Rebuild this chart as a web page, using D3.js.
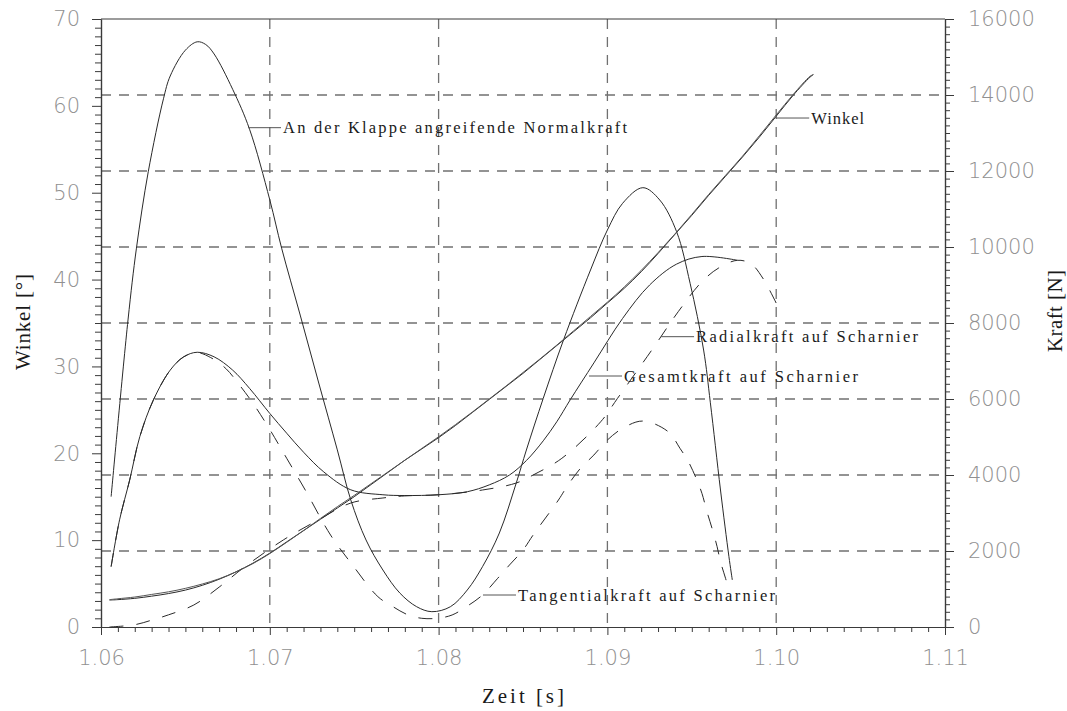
<!DOCTYPE html>
<html>
<head>
<meta charset="utf-8">
<script src="https://cdn.jsdelivr.net/npm/d3@7"></script>
<style>
  html, body { margin: 0; padding: 0; background: #fff; }
  svg { display: block; }
</style>
</head>
<body>
<svg id="chart" width="1067" height="711"></svg>
<script>
// Klappenbewegung: Winkel (links) und Kräfte (rechts) über der Zeit

// Winkel [°], zwei Verläufe
const winkelT = [1.0605, 1.061, 1.062, 1.063, 1.064, 1.065, 1.066, 1.067, 1.068, 1.069, 1.070,
  1.071, 1.072, 1.073, 1.074, 1.075, 1.076, 1.077, 1.078, 1.079, 1.080, 1.081, 1.082, 1.083,
  1.084, 1.085, 1.086, 1.087, 1.088, 1.089, 1.090, 1.091, 1.092, 1.093, 1.094, 1.095, 1.096,
  1.097, 1.098, 1.099, 1.100, 1.101, 1.102, 1.1022];
const winkelA = [3.10, 3.15, 3.30, 3.55, 3.85, 4.25, 4.80, 5.50, 6.35, 7.35, 8.50,
  9.80, 11.10, 12.40, 13.70, 15.00, 16.40, 17.80, 19.20, 20.50, 21.80, 23.20, 24.70, 26.20,
  27.70, 29.20, 30.80, 32.40, 34.00, 35.60, 37.30, 39.00, 40.90, 43.00, 45.20, 47.40, 49.70,
  51.90, 54.10, 56.40, 58.80, 61.20, 63.30, 63.60];
const winkelB = [3.15, 3.25, 3.45, 3.75, 4.05, 4.45, 4.95, 5.55, 6.35, 7.30, 8.45,
  9.75, 11.10, 12.50, 13.85, 15.15, 16.50, 17.85, 19.20, 20.55, 21.90, 23.30, 24.75, 26.25,
  27.75, 29.30, 30.85, 32.45, 34.10, 35.75, 37.40, 39.15, 41.05, 43.10, 45.25, 47.50, 49.80,
  52.00, 54.20, 56.55, 58.95, 61.30, 63.40, 63.60];

// An der Klappe angreifende Normalkraft [N]
const normalT = [1.0606, 1.0616, 1.0621, 1.0628, 1.0637, 1.0641, 1.0650, 1.0657, 1.0662, 1.0667, 1.0678,
  1.0688, 1.0700, 1.0707, 1.0718, 1.0729, 1.0740, 1.0748, 1.0757, 1.0767, 1.0777, 1.0787,
  1.0796, 1.0807, 1.0817, 1.0826, 1.0836, 1.0846, 1.0852, 1.0862, 1.0874, 1.0890, 1.0900,
  1.0909, 1.0921, 1.0931, 1.0941, 1.0949, 1.0957, 1.0961, 1.0967, 1.0972, 1.0974];
const normalN = [3430, 8080, 9970, 11980, 13900, 14500, 15180, 15400, 15330, 15080, 14150,
  13100, 11240, 9970, 8210, 6420, 4660, 3340, 2290, 1500, 895, 534,
  403, 534, 974, 1587, 2474, 3789, 4658, 6018, 7553, 9395, 10447,
  11149, 11561, 11237, 10403, 9044, 7289, 5900, 3605, 1850, 1237];

// Gesamtkraft auf Scharnier [N]
const gesamtT = [1.0606, 1.0611, 1.0617, 1.0623, 1.0631, 1.0641, 1.0649, 1.0657, 1.0667, 1.0678,
  1.0688, 1.0700, 1.0710, 1.0720, 1.0732, 1.0748, 1.0767, 1.0780, 1.0800, 1.0817, 1.0830,
  1.0842, 1.0852, 1.0862, 1.0870, 1.0878, 1.0892, 1.0909, 1.0925, 1.0941, 1.0956, 1.0977];
const gesamtN = [1590, 2820, 3870, 5010, 5970, 6760, 7110, 7230, 7110, 6760,
  6280, 5620, 5100, 4600, 4080, 3610, 3480, 3460, 3480, 3560, 3740,
  4000, 4380, 4900, 5400, 5980, 6950, 8120, 9000, 9550, 9750, 9650];

// Radialkraft auf Scharnier [N]
const radialT = [1.0605, 1.0620, 1.0630, 1.0640, 1.0655, 1.0670, 1.0685, 1.0708, 1.0728, 1.0748,
  1.0767, 1.0780, 1.0800, 1.0826, 1.0846, 1.0856, 1.0873, 1.0896, 1.0906, 1.0927, 1.0942,
  1.0956, 1.0966, 1.0977, 1.0985, 1.0992, 1.1002];
const radialN = [0, 60, 180, 320, 579, 1050, 1579, 2290, 2800, 3263,
  3395, 3450, 3480, 3605, 3789, 4000, 4439, 5400, 6018, 7333, 8300,
  9088, 9450, 9650, 9560, 9184, 8342];

// Tangentialkraft auf Scharnier [N]
const tangentialT = [1.0606, 1.0611, 1.0617, 1.0623, 1.0631, 1.0641, 1.0649, 1.0657, 1.0665, 1.0674,
  1.0682, 1.0690, 1.0699, 1.0710, 1.0721, 1.0736, 1.0749, 1.0764, 1.0773, 1.0782, 1.0790,
  1.0799, 1.0808, 1.0818, 1.0826, 1.0835, 1.0842, 1.0850, 1.0856, 1.0871, 1.0876, 1.0884,
  1.0892, 1.0900, 1.0909, 1.0921, 1.0936, 1.0943, 1.0948, 1.0953, 1.0956, 1.0959, 1.0962,
  1.0965, 1.0967, 1.0970, 1.0972];
const tangentialN = [1590, 2820, 3870, 5010, 5970, 6760, 7110, 7220, 7090, 6800,
  6370, 5890, 5270, 4440, 3605, 2420, 1630, 800, 534, 316, 229,
  229, 316, 579, 842, 1281, 1632, 2026, 2421, 3342, 3692, 4174,
  4526, 4921, 5228, 5420, 5140, 4702, 4350, 3868, 3518, 3032, 2596,
  2113, 1718, 1281, 974];

// Achsen
const timeTicks = [1.06, 1.07, 1.08, 1.09, 1.10, 1.11];
const winkelTicks = [0, 10, 20, 30, 40, 50, 60, 70];
const kraftTicks = [0, 2000, 4000, 6000, 8000, 10000, 12000, 14000, 16000];

// Beschriftungen mit Bezugspunkt auf der Kurve
const labels = [
  { text: "An der Klappe angreifende Normalkraft", t: 1.06871, v: 13140, axis: "N", len: 344 },
  { text: "Winkel", t: 1.1000, v: 58.6, axis: "deg", len: 53 },
  { text: "Radialkraft auf Scharnier", t: 1.09318, v: 7640, axis: "N", len: 222 },
  { text: "Gesamtkraft auf Scharnier", t: 1.08891, v: 6605, axis: "N", len: 234 },
  { text: "Tangentialkraft auf Scharnier", t: 1.08263, v: 842, axis: "N", len: 257 }
];

(function draw() {
  const svg = d3.select("#chart");
  const mLeft = 101, mRight = 945, mTop = 19, mBottom = 627;

  const x = d3.scaleLinear().domain([1.06, 1.11]).range([mLeft, mRight]);
  const yDeg = d3.scaleLinear().domain([0, 70]).range([mBottom, mTop]);
  const yN = d3.scaleLinear().domain([0, 16000]).range([mBottom, mTop]);

  const gridColor = "#707070";
  const axisColor = "#3a3a3a";
  const lineColor = "#2a2a2a";
  const numFont = "'DejaVu Sans', sans-serif";
  const textFont = "'Liberation Serif', 'DejaVu Serif', serif";

  // Gitterlinien
  const grid = svg.append("g");
  grid.selectAll("line.h").data(kraftTicks.slice(1, -1)).join("line")
    .attr("x1", mLeft).attr("x2", mRight)
    .attr("y1", d => yN(d)).attr("y2", d => yN(d))
    .attr("stroke", gridColor).attr("stroke-width", 1.3).attr("stroke-dasharray", "10,8");
  grid.selectAll("line.v").data(timeTicks.slice(1, -1)).join("line")
    .attr("x1", d => x(d)).attr("x2", d => x(d))
    .attr("y1", mTop).attr("y2", mBottom)
    .attr("stroke", gridColor).attr("stroke-width", 1.3).attr("stroke-dasharray", "10,8");

  // Rahmen oben
  svg.append("line").attr("x1", mLeft).attr("x2", mRight).attr("y1", mTop).attr("y2", mTop)
    .attr("stroke", axisColor).attr("stroke-width", 1.2);

  function styleAxis(g) {
    g.select(".domain").attr("stroke", axisColor).attr("stroke-width", 1.2);
    g.selectAll(".tick line").attr("stroke", axisColor).attr("stroke-width", 1);
    g.selectAll(".tick text").attr("fill", "#909090").attr("font-family", numFont)
      .attr("font-size", 21).attr("font-weight", 300);
  }

  // linke Achse (Winkel)
  svg.append("g").attr("transform", `translate(${mLeft},0)`)
    .call(d3.axisLeft(yDeg).tickValues(d3.range(0, 71, 1).filter(d => d % 10 !== 0))
      .tickSize(6).tickSizeOuter(0).tickFormat(""))
    .call(styleAxis);
  svg.append("g").attr("transform", `translate(${mLeft},0)`)
    .call(d3.axisLeft(yDeg).tickValues(winkelTicks).tickSize(9).tickSizeOuter(0).tickPadding(12))
    .call(styleAxis);

  // rechte Achse (Kraft)
  svg.append("g").attr("transform", `translate(${mRight},0)`)
    .call(d3.axisRight(yN).tickValues(d3.range(0, 16001, 200).filter(d => d % 2000 !== 0))
      .tickSize(5).tickSizeOuter(0).tickFormat(""))
    .call(styleAxis);
  svg.append("g").attr("transform", `translate(${mRight},0)`)
    .call(d3.axisRight(yN).tickValues(kraftTicks).tickSize(9).tickSizeOuter(0).tickPadding(14)
      .tickFormat(d3.format("d")))
    .call(styleAxis);

  // untere Achse (Zeit)
  svg.append("g").attr("transform", `translate(0,${mBottom})`)
    .call(d3.axisBottom(x).tickValues(d3.range(0, 51).filter(i => i % 10 !== 0).map(i => 1.06 + i * 0.001))
      .tickSize(5).tickSizeOuter(0).tickFormat(""))
    .call(styleAxis);
  svg.append("g").attr("transform", `translate(0,${mBottom})`)
    .call(d3.axisBottom(x).tickValues(timeTicks).tickSize(8).tickSizeOuter(0).tickPadding(15)
      .tickFormat(d3.format(".2f")))
    .call(styleAxis);

  // Kurven
  const series = (ts, vs, scale) => ts.map((t, i) => [x(t), scale(vs[i])]);
  const line = d3.line().curve(d3.curveCatmullRom.alpha(0.5));
  const curves = svg.append("g").attr("fill", "none").attr("stroke", lineColor).attr("stroke-width", 1);

  curves.append("path").attr("d", line(series(normalT, normalN, yN)));
  curves.append("path").attr("d", line(series(gesamtT, gesamtN, yN)));
  curves.append("path").attr("d", line(series(radialT, radialN, yN))).attr("stroke-dasharray", "14,13");
  curves.append("path").attr("d", line(series(tangentialT, tangentialN, yN))).attr("stroke-dasharray", "14,13");
  curves.append("path").attr("d", line(series(winkelT, winkelA, yDeg)));
  curves.append("path").attr("d", line(series(winkelT, winkelB, yDeg))).attr("stroke", "#555");

  // Beschriftungen mit Hinweislinie
  const ann = svg.append("g");
  labels.forEach(l => {
    const px = x(l.t);
    const py = l.axis === "N" ? yN(l.v) : yDeg(l.v);
    ann.append("line").attr("x1", px).attr("x2", px + 33).attr("y1", py).attr("y2", py)
      .attr("stroke", "#555").attr("stroke-width", 1);
    ann.append("text").attr("x", px + 35).attr("y", py + 5.5)
      .attr("font-family", textFont).attr("font-size", 16.5).attr("fill", "#1a1a1a")
      .attr("textLength", l.len).attr("lengthAdjust", "spacing")
      .text(l.text);
  });

  // Achsentitel
  svg.append("text").attr("transform", "translate(30,322) rotate(-90)")
    .attr("text-anchor", "middle").attr("font-family", textFont).attr("font-size", 21).attr("fill", "#1a1a1a")
    .attr("textLength", 96).attr("lengthAdjust", "spacing").text("Winkel [°]");
  svg.append("text").attr("transform", "translate(1062,311) rotate(-90)")
    .attr("text-anchor", "middle").attr("font-family", textFont).attr("font-size", 21).attr("fill", "#1a1a1a")
    .attr("textLength", 82).attr("lengthAdjust", "spacing").text("Kraft [N]");
  svg.append("text").attr("x", (mLeft + mRight) / 2).attr("y", 703)
    .attr("text-anchor", "middle").attr("font-family", textFont).attr("font-size", 21).attr("fill", "#1a1a1a")
    .attr("textLength", 82).attr("lengthAdjust", "spacing").text("Zeit [s]");
})();
</script>
</body>
</html>
